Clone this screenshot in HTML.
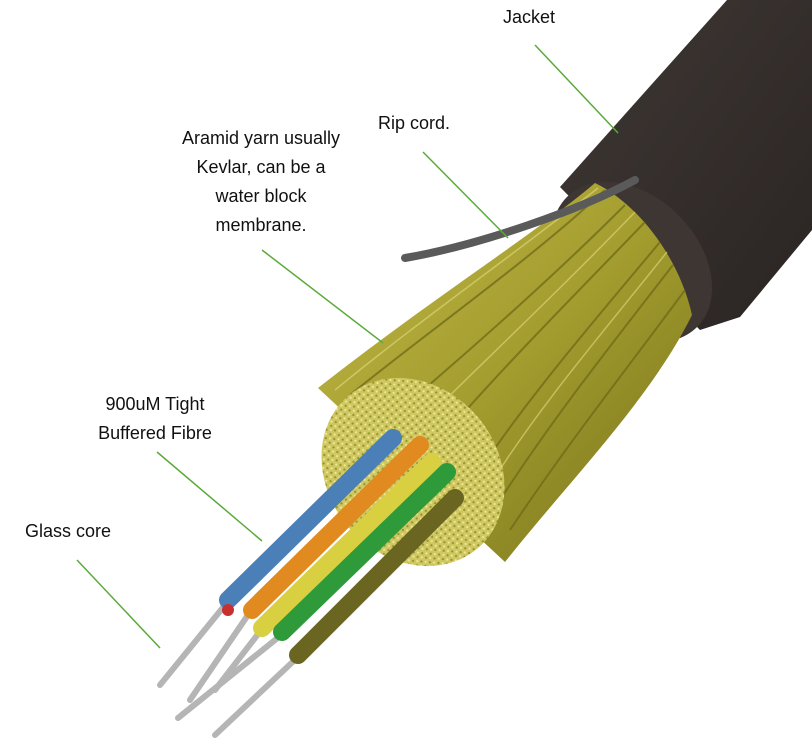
<!DOCTYPE html>
<html><head><meta charset="utf-8"><style>
html,body{margin:0;padding:0;background:#fff;}
svg{display:block;}
text{font-family:"Liberation Sans",sans-serif;font-size:18px;fill:#111;}
</style></head><body>
<svg width="812" height="749" viewBox="0 0 812 749" xmlns="http://www.w3.org/2000/svg">
<defs>
<linearGradient id="jk" x1="0" y1="0" x2="1" y2="1">
<stop offset="0" stop-color="#3f3835"/><stop offset="1" stop-color="#2a2422"/>
</linearGradient>
<linearGradient id="yn" x1="0" y1="0" x2="1" y2="1">
<stop offset="0" stop-color="#c2bb4a"/><stop offset="0.5" stop-color="#a39c2e"/><stop offset="1" stop-color="#77721c"/>
</linearGradient>
<pattern id="spk" width="6" height="6" patternUnits="userSpaceOnUse">
<rect width="6" height="6" fill="#cfc862"/><circle cx="1" cy="1" r="1.2" fill="#9a9430"/><circle cx="4" cy="4" r="1.1" fill="#eee894"/>
</pattern>
</defs>
<rect width="812" height="749" fill="#fff"/>
<!-- jacket -->
<path d="M560,187 L727,0 L812,0 L812,230 L740,317 L700,330 Z" fill="url(#jk)"/>
<ellipse cx="632" cy="262" rx="92" ry="66" transform="rotate(45 632 262)" fill="#3e3633"/>
<!-- yarn cone -->
<path d="M595,183 C540,230 430,300 318,388 L505,562 C570,480 650,400 692,315 C680,260 640,205 595,183 Z" fill="url(#yn)"/>
<g stroke="#6e6a18" stroke-width="2" opacity="0.75" fill="none">
<path d="M605,190 C530,260 430,330 350,395"/>
<path d="M625,205 C550,280 470,350 400,410"/>
<path d="M645,222 C570,300 500,370 440,440"/>
<path d="M660,242 C595,320 530,395 480,470"/>
<path d="M673,265 C615,340 555,415 500,500"/>
<path d="M685,290 C630,365 570,440 510,530"/>
</g>
<g stroke="#e2dc80" stroke-width="1.5" opacity="0.6" fill="none">
<path d="M598,188 C520,250 420,320 335,390"/>
<path d="M635,212 C560,290 485,360 420,425"/>
<path d="M667,252 C605,330 540,405 490,485"/>
</g>
<!-- rip cord -->
<path d="M635,180 C580,210 480,245 405,258" stroke="#5a5a5a" stroke-width="8" fill="none" stroke-linecap="round"/>
<!-- front face -->
<ellipse cx="413" cy="472" rx="100" ry="85" transform="rotate(50 413 472)" fill="url(#spk)"/>
<!-- glass cores -->
<g stroke="#b5b5b5" stroke-width="6" stroke-linecap="round">
<line x1="225" y1="605" x2="160" y2="685"/>
<line x1="250" y1="612" x2="190" y2="700"/>
<line x1="265" y1="625" x2="215" y2="690"/>
<line x1="285" y1="632" x2="178" y2="718"/>
<line x1="300" y1="655" x2="215" y2="735"/>
</g>
<!-- fibres -->
<g stroke-linecap="round" fill="none">
<line x1="393" y1="438" x2="228" y2="600" stroke="#4a7fb8" stroke-width="18"/>
<line x1="420" y1="445" x2="252" y2="610" stroke="#e08a20" stroke-width="18"/>
<line x1="432" y1="462" x2="262" y2="628" stroke="#d8d040" stroke-width="18"/>
<line x1="447" y1="472" x2="282" y2="632" stroke="#2e9a3a" stroke-width="18"/>
<line x1="455" y1="498" x2="298" y2="655" stroke="#6a6520" stroke-width="18"/>
</g>
<circle cx="228" cy="610" r="6" fill="#c83030"/>
<!-- labels -->
<g stroke="#5aaa3a" stroke-width="1.5">
<line x1="535" y1="45" x2="618" y2="133"/>
<line x1="423" y1="152" x2="508" y2="238"/>
<line x1="262" y1="250" x2="383" y2="343"/>
<line x1="157" y1="452" x2="262" y2="541"/>
<line x1="77" y1="560" x2="160" y2="648"/>
</g>
<text x="503" y="23">Jacket</text>
<text x="378" y="129">Rip cord.</text>
<g text-anchor="middle">
<text x="261" y="144">Aramid yarn usually</text>
<text x="261" y="173">Kevlar, can be a</text>
<text x="261" y="202">water block</text>
<text x="261" y="231">membrane.</text>
<text x="155" y="410">900uM Tight</text>
<text x="155" y="439">Buffered Fibre</text>
</g>
<text x="25" y="537">Glass core</text>
</svg>
</body></html>
